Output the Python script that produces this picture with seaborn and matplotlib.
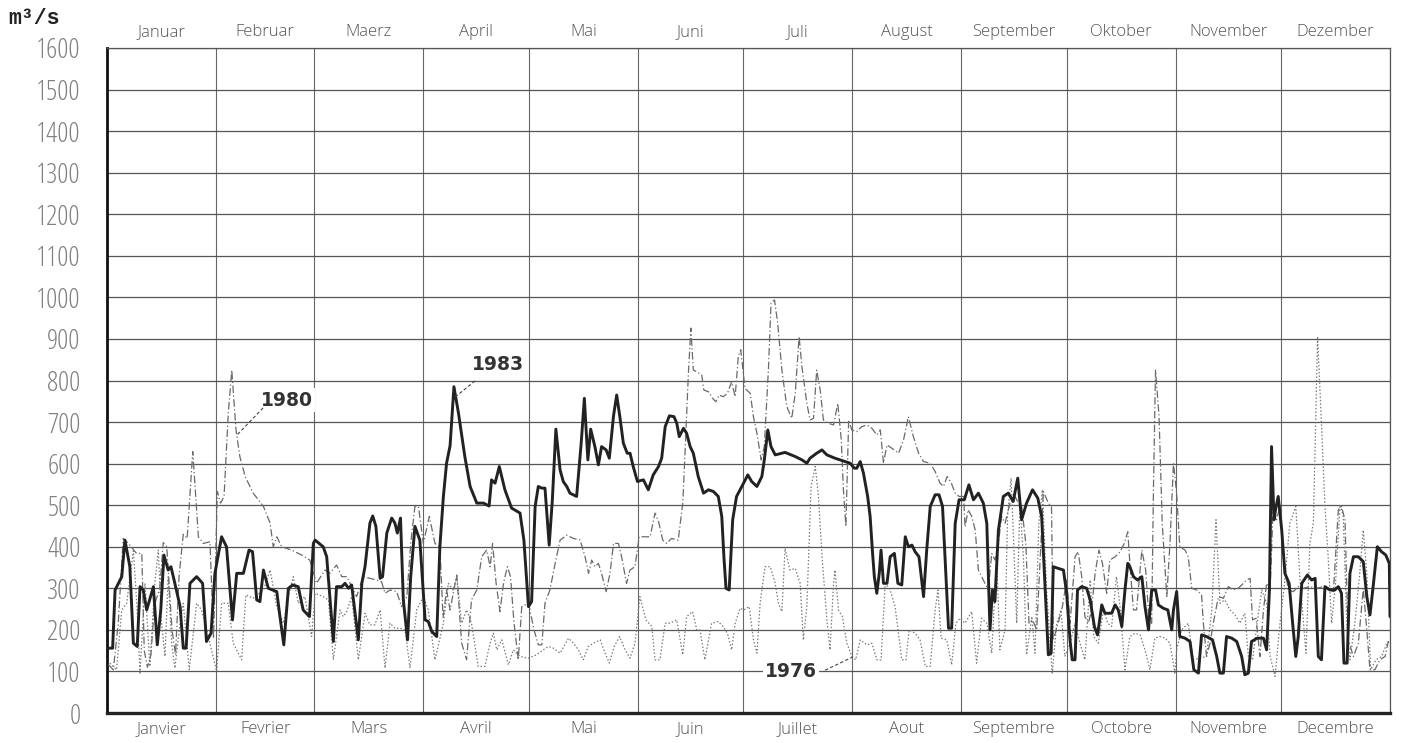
import pandas as pd
import seaborn as sns
import matplotlib.pyplot as plt

# ---------------------------------------------------------
# Data: daily discharge (m3/s)
# ---------------------------------------------------------
months_de = ["Januar", "Februar", "Maerz", "April", "Mai", "Juni", "Juli",
             "August", "September", "Oktober", "November", "Dezember"]
months_fr = ["Janvier", "Fevrier", "Mars", "Avril", "Mai", "Juin", "Juillet",
             "Aout", "Septembre", "Octobre", "Novembre", "Decembre"]
month_days = [31, 28, 31, 30, 31, 30, 31, 31, 30, 31, 30, 31]

days_1983 = [0.4, 1.6, 2.3, 4.2, 5.1, 6.5, 7.5, 8.6, 9.4, 10.3, 11.3, 13.2, 14.3, 15.3, 16.2, 17.4, 18.2, 19.3,
             20.8, 21.7, 22.5, 23.6, 25.5, 27.2, 28.3, 29.6, 30.7, 32.6, 34, 35.7, 36.9, 38.8, 40.4, 41.4,
             42.6, 43.5, 44.5, 45.9, 48.3, 49.2, 50.3, 51.6, 52.8, 54.4, 55.8, 57.6, 58.7, 59.2, 61.5, 62.5,
             64.4, 65.3, 66.8, 67.7, 68.7, 69.6, 71.5, 72.5, 73.4, 74.8, 75.6, 76.5, 77.7, 78.4, 79.6, 81,
             81.9, 82.6, 83.5, 84.3, 85.5, 86.4, 87.6, 89, 90.5, 91.4, 92.4, 93.8, 94.7, 95.7, 96.6, 97.6,
             98.7, 100, 101.8, 103.3, 105.2, 107.1, 108.7, 109.4, 110.4, 111.6, 113.2, 115.1, 117.5, 118.6,
             119.9, 120.8, 121.8, 122.7, 123.7, 124.6, 125.8, 126.7, 127.7, 128.9, 129.8, 130.8, 131.7,
             133.6, 134.9, 135.8, 136.8, 137.6, 138.8, 139.8, 140.7, 142, 142.9, 144.1, 145, 145.9, 146.9,
             148, 148.8, 149.7, 150.9, 152.6, 154, 155.4, 156.9, 157.8, 158.8, 160, 161.3, 162.1, 162.8,
             164, 164.9, 165.9, 166.8, 168.2, 169.7, 171.1, 172.5, 173.9, 174.9, 175.5, 176.1, 177, 178,
             179.1, 181.1, 182.3, 183.4, 184.9, 186.3, 187, 188, 188.9, 190.1, 192.9, 195.8, 197.7, 199.1,
             200, 201.9, 203.4, 204.8, 207.1, 210, 211.4, 212.6, 213.3, 214.3, 215.2, 216.4, 217.1, 217.8,
             218.3, 219, 219.7, 220.2, 220.9, 221.9, 222.8, 224, 225, 226.1, 227.1, 228, 229, 229.9, 231,
             232.3, 233.2, 234.2, 235.6, 236.7, 237.7, 238.4, 239.4, 240.3, 241.3, 242.4, 243.9, 245.2,
             246.5, 247.9, 249.3, 250.3, 251.2, 251.9, 252.6, 253.6, 255, 256.4, 257.8, 259.1, 260.2,
             261.6, 263.3, 264.8, 265.9, 266.9, 267.8, 268.6, 269.2, 270.6, 272.1, 273, 274, 274.6, 275.4,
             276.1, 277.3, 278.7, 279.7, 280.9, 281.8, 283, 283.9, 285.8, 286.8, 287.7, 288.7, 289.6,
             290.4, 291, 292, 293.2, 294.4, 295.3, 296.3, 297.2, 298.3, 299.1, 300.5, 301.8, 302.9, 303.4,
             304.3, 305.2, 306.7, 308.1, 309.2, 310.5, 311.4, 312.8, 314.5, 315.7, 316.6, 317.6, 318.5,
             320, 321.4, 322.8, 323.7, 324.7, 325.6, 327.2, 329, 329.9, 330.7, 331.3, 332, 332.6, 333.2,
             334.2, 335.1, 336.3, 337.3, 338.2, 338.9, 339.9, 341.5, 342.7, 343.7, 344.6, 345.5, 346.5,
             347.9, 349.3, 350.3, 351.2, 351.9, 352.8, 353.6, 354.6, 356, 357.4, 358.4, 359.3, 360.2,
             361.4, 362.6, 363.8, 364.8, 365]
q_1983 = [156, 156, 296, 328, 416, 352, 168, 160, 304, 296, 248, 304, 164, 248, 380, 344, 352, 312,
          256, 156, 156, 312, 328, 312, 172, 192, 336, 424, 400, 224, 336, 336, 392, 388,
          272, 268, 344, 300, 292, 232, 164, 300, 308, 304, 248, 232, 408, 416, 400, 376,
          172, 304, 304, 312, 300, 308, 176, 312, 352, 457, 474, 449, 324, 328, 433, 469,
          457, 433, 469, 272, 176, 328, 449, 416, 224, 220, 196, 184, 400, 521, 601, 643,
          785, 721, 617, 545, 505, 505, 498, 561, 553, 593, 537, 493, 481, 416,
          256, 268, 497, 545, 541, 541, 404, 513, 683, 585, 557, 545, 529,
          521, 649, 757, 609, 683, 641, 597, 641, 633, 613, 715, 765, 713, 649,
          625, 625, 593, 557, 561, 537, 573, 593, 613, 689, 715, 713, 697, 665,
          685, 673, 641, 625, 569, 529, 537, 533, 521, 473, 376, 300, 296, 465,
          521, 553, 573, 557, 545, 569, 609, 681, 641, 621, 627, 617, 609, 601,
          613, 625, 633, 621, 613, 605, 601, 589, 589, 605, 577, 521, 473, 384,
          328, 288, 336, 392, 312, 312, 376, 384, 312, 308, 424, 400, 404, 388, 376,
          280, 392, 497, 525, 525, 497, 376, 204, 204, 456, 513, 513, 549,
          513, 529, 505, 456, 200, 296, 268, 440, 521, 529, 509, 565, 465,
          505, 537, 517, 473, 296, 140, 144, 352, 348, 344, 288, 172, 128, 128,
          296, 304, 300, 272, 208, 188, 260, 240, 240, 260, 248, 208, 296,
          360, 352, 328, 320, 328, 256, 200, 296, 296, 260, 252, 248, 200, 248,
          292, 184, 180, 172, 104, 96, 188, 184, 176, 136, 96, 96, 184,
          180, 172, 136, 92, 96, 172, 180, 180, 152, 296, 641, 465, 497, 521,
          440, 336, 312, 216, 136, 184, 312, 332, 320, 324, 136, 128, 304,
          296, 296, 304, 288, 120, 120, 336, 376, 376, 364, 280, 236, 304,
          400, 388, 380, 360, 232]

days_1980 = [0.4, 1.8, 3.2, 4.6, 6.1, 8.4, 9.9, 10.6, 11.5, 12.5, 13.5, 15, 16, 17, 18.5, 19.5, 20.5, 21.7,
             22.8, 24.4, 26, 27.4, 29.3, 30.3, 31.4, 32.3, 33.3, 34.5, 35.5, 36.7, 37.8, 39.3, 41.6, 44.5,
             46.4, 47.3, 48.3, 49.7, 52.5, 55.4, 57.7, 59.6, 62, 63.4, 65.3, 66.8, 68.2, 69.6, 71, 72.9,
             74.8, 76.7, 78.1, 79.1, 80.5, 82.4, 83.8, 85.3, 86.4, 87.6, 88.6, 90, 91.7, 93.3, 94.7, 95.6,
             96.6, 97.6, 99.5, 100.9, 102.3, 103.7, 105.2, 106.6, 108, 109, 109.7, 110.7, 111.8, 112.8,
             113.9, 114.8, 115.8, 117, 118, 119.9, 121.5, 122.7, 123.7, 124.6, 126, 127.5, 128.9, 130.8,
             132.7, 134.6, 136, 137, 137.9, 138.8, 139.8, 140.7, 142, 143.1, 144.1, 145.5, 146.4, 147.8,
             148.8, 150.2, 151.4, 153.1, 154.5, 155.9, 156.9, 158.1, 159.2, 160.6, 162.5, 163.8, 164.4,
             165.4, 166.1, 166.8, 167.8, 169.2, 169.8, 171.1, 172.3, 173.2, 174.2, 175.3, 176.5, 177.7,
             178.7, 179.6, 180.3, 181.5, 183, 183.9, 184.9, 186.1, 187, 188.2, 188.9, 189.9, 190.8, 192,
             193.4, 194.8, 195.8, 196.9, 197.7, 199.1, 200, 201, 201.9, 202.9, 203.8, 205.3, 206.7, 207.9,
             208.9, 209.5, 210.2, 211, 211.9, 213.3, 214.7, 216.2, 217.6, 219, 220, 220.9, 221.9, 223.3,
             225.2, 226.6, 228, 229.4, 230.9, 232.3, 234.2, 235.6, 237, 238, 239, 240.2, 241.3, 242.4,
             243.7, 244.1, 245, 246, 247, 247.9, 249.3, 250.7, 251.7, 252.6, 253.6, 254.5, 255.5, 256.9,
             258.3, 259.3, 260.2, 261.4, 262.3, 263.3, 264.5, 265.4, 266.4, 267.8, 268.7, 269.2, 270.6,
             271.8, 273, 274, 275.4, 276.3, 277.3, 278.2, 279.2, 280.1, 281.1, 282.2, 283.2, 284.4, 285.3,
             286.8, 288.2, 289.4, 290.4, 291, 292, 292.9, 294.4, 295.5, 296.3, 297.2, 297.7, 298.3, 299.3,
             300.2, 301.5, 302.4, 303.4, 304.3, 305.2, 306.7, 307.6, 308.6, 310, 311.4, 311.9, 312.8,
             313.8, 314.9, 316.2, 317.6, 319, 320.4, 321.8, 323.3, 324.2, 325.2, 325.9, 326.9, 328, 329,
             329.9, 330.9, 331.8, 332.7, 333.7, 334.6, 336, 337.5, 338.9, 340.3, 342.2, 344.1, 346, 347.4,
             348.9, 350.3, 351.2, 352.2, 353.1, 354.6, 356, 357.4, 358.4, 359.3, 360.7, 362.1, 363.6,
             364.5, 365]
q_1980 = [116, 104, 216, 420, 408, 384, 384, 150, 110, 140, 260, 300, 410, 400, 200, 140, 330, 430,
          420, 629, 424, 408, 412, 180, 533, 505, 521, 721, 825, 681, 617, 569, 529, 497,
          457, 400, 424, 400, 392, 380, 368, 312, 344, 336, 356, 328, 328, 304, 280, 328,
          324, 320, 316, 288, 296, 292, 256, 280, 408, 497, 497, 408, 473, 408, 400, 230,
          296, 248, 332, 168, 128, 272, 296, 376, 392, 352, 408, 312, 244, 312,
          352, 328, 216, 128, 256, 264, 200, 164, 164, 264, 296, 360, 416, 428,
          420, 416, 376, 336, 368, 352, 360, 336, 292, 336, 408, 408, 376, 312,
          344, 352, 424, 424, 424, 481, 461, 416, 408, 420, 416, 505, 617,
          817, 926, 825, 821, 813, 777, 773, 757, 749, 765, 761, 769, 797,
          761, 858, 874, 781, 769, 713, 673, 609, 641, 833, 986, 994, 938, 825,
          737, 709, 769, 906, 833, 745, 705, 709, 825, 777, 705, 697, 693, 745,
          657, 537, 449, 705, 681, 677, 689, 693, 685, 669, 681, 601, 645, 637,
          625, 657, 713, 665, 625, 605, 601, 581, 553, 545, 569, 553, 529, 521,
          521, 448, 489, 473, 440, 344, 320, 296, 384, 368, 408, 473, 457, 505,
          521, 505, 497, 408, 216, 224, 200, 360, 533, 505, 497, 176, 216,
          256, 320, 216, 376, 388, 328, 232, 216, 248, 336, 392, 360, 288, 368,
          376, 388, 408, 436, 360, 248, 248, 392, 344, 240, 216, 537, 825, 713,
          457, 280, 408, 601, 529, 400, 392, 376, 300, 296, 284, 216, 136,
          168, 224, 280, 276, 304, 296, 300, 312, 320, 324, 224, 228, 136, 248,
          312, 296, 505, 465, 497, 392, 296, 292, 304, 300, 304, 300, 304, 300,
          292, 489, 497, 465, 176, 136, 168, 300, 200, 104, 104, 128, 136,
          172, 168]

days_1976 = [0.8, 2.7, 4.2, 5.6, 7.5, 8.5, 9.4, 10.8, 12.2, 13.6, 14.6, 15.5, 16.5, 17.4, 18.4, 19.3, 20.8,
             21.7, 23.4, 25.5, 26.9, 28.8, 31.2, 32.6, 34.5, 35.9, 38.3, 39.5, 41.6, 44.5, 46.4, 48.3, 50.2,
             51.6, 53, 54.4, 56.3, 58.2, 59.2, 61.5, 63, 64.4, 66.3, 67.2, 68.2, 69.6, 71.5, 73.4, 74.8,
             76.2, 77.7, 79.1, 80.5, 81.9, 83.4, 84.8, 86.2, 88.1, 90, 91.4, 93.3, 95.7, 97.1, 98.5, 99.5,
             100.9, 102.3, 103.7, 105.6, 107.5, 109, 109.9, 110.9, 112.3, 114.2, 115.6, 117.5, 119.9,
             122.2, 124.1, 125.6, 127, 128.9, 131.3, 132.7, 134.1, 135.5, 136.9, 138.4, 140.3, 141.7,
             142.9, 144.3, 145.8, 147.4, 148.8, 150.2, 151.6, 153.3, 155, 155.9, 157.3, 158.8, 160.2,
             162.1, 163.8, 164.9, 166.6, 167.8, 168.7, 170.1, 172, 173.9, 175.3, 176.5, 177.7, 178.7,
             180.1, 181.2, 182.7, 183.9, 184.9, 185.8, 187.2, 188.7, 190.1, 191, 192, 192.9, 194.3, 195.8,
             197.2, 198.1, 199.1, 200.3, 201.5, 202.4, 203.5, 204.8, 205.7, 206.7, 207.1, 208.1, 209.2,
             210.5, 211.9, 213, 214.3, 216.2, 217.6, 219, 220.2, 221.4, 222.8, 224.2, 226.1, 227.3, 228.2,
             229.9, 231.3, 232.8, 234.2, 235.6, 236.4, 237.3, 238.9, 240.3, 241.5, 242.7, 244.1, 246,
             247.4, 248.8, 250.3, 251.7, 253.1, 254, 255.5, 256.2, 257.2, 258.1, 258.8, 259.7, 260.7,
             261.6, 263.1, 264, 265.1, 266.1, 267.3, 268.9, 270.2, 271.4, 272.5, 274, 275.4, 276.8, 278.2,
             279.7, 280.7, 282, 283.5, 284.7, 285.8, 287.2, 288.2, 289.6, 291, 292.5, 293.9, 295.3, 296.7,
             298.1, 299.6, 301, 302.4, 303.8, 304.3, 305.7, 307.6, 309, 312.8, 314.3, 315.5, 316.6, 318,
             319.5, 320.9, 322.3, 323.7, 324.7, 325.9, 327.2, 328.5, 329.9, 330.9, 332.3, 333.7, 335.1,
             336.5, 338.2, 339.4, 341.1, 342.2, 343.2, 344.4, 345.5, 346.5, 347.4, 348.4, 349.5, 350.8,
             351.7, 352.7, 353.6, 355, 356.3, 357.4, 358.4, 359.5, 361, 362.6, 364.1, 365]
q_1976 = [120, 104, 248, 264, 390, 260, 96, 312, 112, 312, 392, 216, 136, 328, 168, 108, 216,
          264, 104, 264, 248, 184, 100, 264, 264, 168, 128, 284, 276, 296, 344, 256, 216,
          280, 328, 264, 280, 184, 288, 280, 272, 128, 248, 232, 244, 280, 128, 240, 212,
          212, 248, 108, 216, 204, 204, 200, 108, 248, 280, 248, 128, 216, 312, 296, 328,
          216, 248, 216, 112, 112, 168, 192, 152, 176, 116, 152, 136, 132,
          140, 152, 160, 156, 144, 180, 168, 152, 128, 160, 168, 176, 144,
          120, 160, 184, 152, 132, 168, 280, 224, 208, 128, 128, 216, 216,
          224, 140, 232, 244, 200, 200, 128, 216, 220, 208, 192, 152, 216,
          252, 248, 256, 176, 144, 264, 352, 352, 312, 264, 244, 396, 344, 348,
          312, 176, 256, 545, 593, 521, 368, 224, 152, 312, 344, 248, 232,
          168, 136, 128, 176, 164, 168, 128, 128, 312, 296, 256, 128, 128, 200,
          192, 176, 112, 112, 248, 296, 180, 176, 116, 216, 228, 216, 244,
          120, 228, 216, 144, 376, 152, 200, 473, 565, 376, 216, 505, 376,
          140, 232, 144, 457, 537, 296, 96, 216, 248, 136, 168, 216, 168, 128,
          320, 184, 168, 248, 216, 208, 328, 256, 104, 184, 192, 188, 152, 104,
          180, 184, 180, 168, 96, 152, 200, 216, 128, 136, 248, 465, 264, 272,
          248, 236, 216, 240, 136, 128, 216, 296, 264, 136, 88, 216, 320,
          457, 497, 320, 144, 408, 457, 906, 697, 497, 376, 216, 312, 501,
          473, 216, 128, 216, 328, 440, 336, 104, 128, 136, 168, 172]

# label positions (day, value) for the year annotations
labels = ["1983", "1980", "1976"]
label_xy = [(111.2, 838), (51.1, 753), (194.6, 101)]
leader_from = [(104.7, 799), (44.4, 734), (204.3, 103)]
leader_to = [(99.0, 760), (37.0, 669), (212.2, 135)]

# ---------------------------------------------------------
# Frames
# ---------------------------------------------------------
df83 = pd.DataFrame({"day": days_1983, "q": q_1983})
df80 = pd.DataFrame({"day": days_1980, "q": q_1980})
df76 = pd.DataFrame({"day": days_1976, "q": q_1976})

month_edges = [0]
for n in month_days:
    month_edges.append(month_edges[-1] + n)
month_mid = [(a + b) / 2 for a, b in zip(month_edges[:-1], month_edges[1:])]

# ---------------------------------------------------------
# Plot
# ---------------------------------------------------------
sns.set_style("white")
plt.rcParams["font.family"] = ["DejaVu Sans"]

fig = plt.figure(figsize=(14.01, 7.43), dpi=100)
ax = fig.add_axes([107 / 1401, 30 / 743, 1283 / 1401, 665 / 743])

sns.lineplot(data=df76, x="day", y="q", ax=ax, estimator=None, color="#7a7a7a",
             linewidth=0.9, linestyle=(0, (1.2, 1.6)), zorder=3)
sns.lineplot(data=df80, x="day", y="q", ax=ax, estimator=None, color="#6a6a6a",
             linewidth=0.9, linestyle=(0, (6, 2, 1, 2)), zorder=4)
sns.lineplot(data=df83, x="day", y="q", ax=ax, estimator=None, color="#222222",
             linewidth=2.1, zorder=5)

ax.set_xlim(0, 365)
ax.set_ylim(0, 1600)
ax.set_xlabel("")
ax.set_ylabel("")

# grid: horizontal every 100, vertical at month boundaries
ax.set_yticks(range(0, 1700, 100))
ax.set_yticklabels([str(v) for v in range(0, 1700, 100)],
                   family=["Open Sans", "DejaVu Sans"], fontweight=300,
                   fontstretch="condensed", fontsize=20, color="#808080")
ax.tick_params(axis="y", length=11, width=0.9, color="#555555", pad=8, direction="out")
ax.grid(axis="y", color="#555555", linewidth=0.9, zorder=1)

ax.set_xticks(month_edges)
ax.set_xticklabels([])
ax.grid(axis="x", which="major", color="#666666", linewidth=0.8, zorder=1)
ax.set_xticks(month_mid, minor=True)
ax.set_xticklabels(months_fr, minor=True, fontsize=12, color="#555555",
                   family=["Open Sans", "DejaVu Sans"], fontweight=300)
ax.tick_params(axis="x", which="both", length=0, pad=6)

top = ax.secondary_xaxis("top")
top.set_xticks(month_mid)
top.set_xticklabels(months_de, fontsize=12, color="#555555",
                    family=["Open Sans", "DejaVu Sans"], fontweight=300)
top.tick_params(length=0, pad=6)
top.spines["top"].set_visible(False)

for side, lw, col in [("left", 2.0, "#111111"), ("bottom", 2.4, "#222222"),
                      ("top", 0.9, "#555555"), ("right", 0.9, "#555555")]:
    ax.spines[side].set_visible(True)
    ax.spines[side].set_linewidth(lw)
    ax.spines[side].set_color(col)

# year labels with dashed leader lines
for lab, xy, p0, p1 in zip(labels, label_xy, leader_from, leader_to):
    ax.text(xy[0], xy[1], lab, ha="center", va="center", fontsize=13.5,
            fontweight="bold", color="#333333", zorder=6,
            bbox=dict(facecolor="white", edgecolor="none", pad=1.5))
    ax.plot([p0[0], p1[0]], [p0[1], p1[1]], color="#444444", linewidth=0.8,
            linestyle=(0, (3, 2)), zorder=6)

fig.text(8 / 1401, 1 - 19 / 743, "m³/s", ha="left", va="center",
         family=["Liberation Mono", "DejaVu Sans Mono"], fontweight="bold",
         fontsize=15.5, color="#222222")

fig.savefig("out.png", dpi=100, facecolor="white")
